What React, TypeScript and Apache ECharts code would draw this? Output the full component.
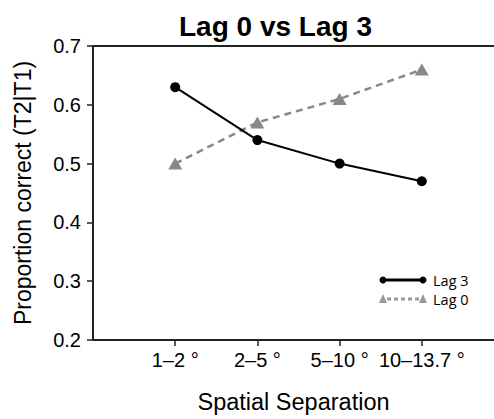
import React, { useEffect, useRef } from "react";
import * as echarts from "echarts";

const categories = ["1–2 °", "2–5 °", "5–10 °", "10–13.7 °"];
const lag3 = [0.63, 0.54, 0.5, 0.47];
const lag0 = [0.5, 0.57, 0.61, 0.66];
const yTicks = [0.2, 0.3, 0.4, 0.5, 0.6, 0.7];
const seriesNames = ["Lag 3", "Lag 0"];

const FONT = "'Liberation Sans', Arial, Helvetica, sans-serif";

export default function App() {
  const ref = useRef<HTMLDivElement>(null);
  useEffect(() => {
    if (!ref.current) return;
    const chart = echarts.init(ref.current, null, { renderer: "svg" });
    const positions = categories.map((_, i) => i + 1);
    const gridLeft = 93;
    const step = 82.2;
    const xMax = (494 - gridLeft) / step;
    const legendX1 = 383;
    const legendX2 = 423;
    const ly3 = 280;
    const ly0 = 299;
    chart.setOption({
      animation: false,
      backgroundColor: "#fff",
      title: {
        text: "Lag 0 vs Lag 3",
        left: 174,
        top: 7,
        textStyle: { fontFamily: FONT, fontSize: 28, fontWeight: "bold", color: "#000" },
      },
      grid: {
        left: gridLeft,
        right: 0,
        top: 46,
        bottom: 74,
        show: false,
      },
      xAxis: [
        {
          type: "value",
          min: 0,
          max: xMax,
          interval: 1,
          name: "Spatial Separation",
          nameLocation: "middle",
          nameGap: 50,
          nameTextStyle: { fontFamily: FONT, fontSize: 23.5, color: "#000" },
          splitLine: { show: false },
          axisLine: { show: true, lineStyle: { color: "#222", width: 2 } },
          axisTick: {
            show: true,
            customValues: positions,
            length: 6,
            inside: false,
            lineStyle: { color: "#222", width: 1.5 },
          },
          axisLabel: {
            customValues: positions,
            margin: 10,
            fontFamily: FONT,
            fontSize: 20,
            color: "#000",
            formatter: (v: number) => categories[Math.round(v) - 1] ?? "",
          },
        },
        {
          type: "value",
          position: "top",
          min: 0,
          max: xMax,
          splitLine: { show: false },
          axisLine: { show: true, lineStyle: { color: "#222", width: 2 } },
          axisTick: { show: false },
          axisLabel: { show: false },
        },
      ],
      yAxis: {
        type: "value",
        min: 0.2,
        max: 0.7,
        interval: 0.1,
        name: "Proportion correct (T2|T1)",
        nameLocation: "middle",
        nameGap: 59,
        nameTextStyle: { fontFamily: FONT, fontSize: 23, color: "#000" },
        splitLine: { show: false },
        axisLine: { show: true, lineStyle: { color: "#222", width: 2 } },
        axisTick: { show: true, length: 6, lineStyle: { color: "#222", width: 1.5 } },
        axisLabel: {
          margin: 12,
          fontFamily: FONT,
          fontSize: 20,
          color: "#000",
          formatter: (v: number) => {
            const m = yTicks.find((t) => Math.abs(t - v) < 1e-6);
            return m !== undefined ? m.toFixed(1) : "";
          },
        },
      },
      series: [
        {
          name: seriesNames[0],
          type: "line",
          xAxisIndex: 0,
          data: positions.map((x, i) => [x, lag3[i]]),
          symbol: "circle",
          symbolSize: 10,
          lineStyle: { color: "#000", width: 2 },
          itemStyle: { color: "#000" },
          z: 3,
        },
        {
          name: seriesNames[1],
          type: "line",
          xAxisIndex: 0,
          data: positions.map((x, i) => [x, lag0[i]]),
          symbol: "triangle",
          symbolSize: [14, 12],
          lineStyle: { color: "#888", width: 2.5, type: [7, 5] },
          itemStyle: { color: "#888" },
          z: 2,
        },
      ],
      graphic: [
        {
          type: "line",
          shape: { x1: legendX1, y1: ly3, x2: legendX2, y2: ly3 },
          style: { stroke: "#000", lineWidth: 3 },
        },
        { type: "circle", shape: { cx: legendX1, cy: ly3, r: 3.5 }, style: { fill: "#000" } },
        { type: "circle", shape: { cx: legendX2, cy: ly3, r: 3.5 }, style: { fill: "#000" } },
        {
          type: "text",
          x: 433,
          y: ly3,
          style: {
            text: seriesNames[0],
            fontFamily: "'Open Sans', 'Noto Sans', sans-serif",
            fontSize: 14.5,
            fill: "#000",
            verticalAlign: "middle",
          },
        },
        {
          type: "line",
          shape: { x1: legendX1 + 4, y1: ly0, x2: legendX2 - 4, y2: ly0 },
          style: { stroke: "#999", lineWidth: 3, lineDash: [4, 3] },
        },
        {
          type: "polygon",
          shape: { points: [[legendX1 - 4, ly0 + 4], [legendX1 + 4, ly0 + 4], [legendX1, ly0 - 5]] },
          style: { fill: "#999" },
        },
        {
          type: "polygon",
          shape: { points: [[legendX2 - 4, ly0 + 4], [legendX2 + 4, ly0 + 4], [legendX2, ly0 - 5]] },
          style: { fill: "#999" },
        },
        {
          type: "text",
          x: 433,
          y: ly0,
          style: {
            text: seriesNames[1],
            fontFamily: "'Open Sans', 'Noto Sans', sans-serif",
            fontSize: 14.5,
            fill: "#000",
            verticalAlign: "middle",
          },
        },
      ],
    });
    return () => chart.dispose();
  }, []);
  return <div ref={ref} style={{ width: 494, height: 419, position: "absolute", left: 0, top: 0 }} />;
}
